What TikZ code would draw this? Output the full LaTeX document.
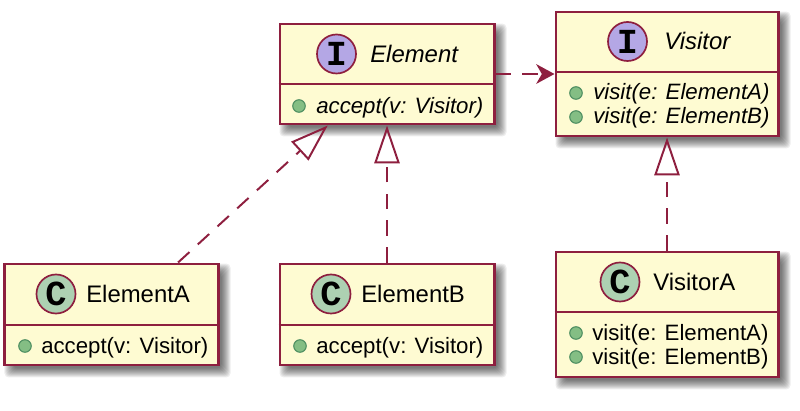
\documentclass[tikz,border=0pt]{standalone}
\usepackage{fontspec}
\setmainfont{Liberation Sans}
\newfontfamily\stereofont{Liberation Mono}
\usetikzlibrary{arrows.meta,backgrounds,calc}

\definecolor{umlline}{HTML}{8E1F3F}
\definecolor{umlfill}{HTML}{FEFBD2}
\definecolor{umliface}{HTML}{B4A7E5}
\definecolor{umlclass}{HTML}{ADD1B2}
\definecolor{umldot}{HTML}{84BE84}
\definecolor{umldotline}{HTML}{4F8F62}

\tikzset{
    classbox/.style={draw=umlline, fill=umlfill, line width=2.1pt, rectangle, inner sep=0pt},
    badge/.style={circle, draw=umlline, line width=1.2pt, minimum size=39\unit, inner sep=0pt, text=black},
    title/.style={anchor=west, inner sep=0pt, font=\fontsize{17}{20}\selectfont},
    member/.style={anchor=west, inner sep=0pt, yshift=-1.5pt, font=\fontsize{15.8}{19}\selectfont},
    dot/.style={circle, draw=umldotline, fill=umldot, line width=.8pt, minimum size=12.5\unit, inner sep=0pt},
    realize/.style={draw=umlline, line width=1.4pt, dash pattern=on 11pt off 8pt,
        -{Triangle[open, length=27pt, width=18pt, line width=1.4pt]}},
    depends/.style={draw=umlline, line width=1.4pt, dash pattern=on 11pt off 8pt,
        -{Stealth[length=13pt, width=14pt, inset=4pt]}}
}
\newcommand{\unit}{*0.7113pt}

% soft shadow behind a box
\newcommand{\softshadow}[1]{
    \begin{scope}[on background layer]
        \foreach \s in {-4,-3,...,5}
            \fill[black, opacity=.07, rounded corners=3pt]
                ($(#1.north west)+(6-\s,6-\s)$) rectangle ($(#1.south east)+(6+\s,6+\s)$);
    \end{scope}
}

\begin{document}
\begin{tikzpicture}[x=0.025cm, y=-0.025cm]

    \useasboundingbox (0,0) rectangle (800,411);

    % The five boxes
    \node[classbox, minimum width=214\unit, minimum height=100\unit] (element) at (387,74) {};
    \node[classbox, minimum width=222\unit, minimum height=124\unit] (visitor) at (667,74) {};
    \node[classbox, minimum width=213\unit, minimum height=101\unit] (elementA) at (111.5,314.5) {};
    \node[classbox, minimum width=214\unit, minimum height=101\unit] (elementB) at (387,314.5) {};
    \node[classbox, minimum width=222\unit, minimum height=125\unit] (visitorA) at (667,314.5) {};

    \softshadow{element}
    \softshadow{visitor}
    \softshadow{elementA}
    \softshadow{elementB}
    \softshadow{visitorA}

    % Dividers between title and members
    \draw[umlline, line width=2.1pt] (element.west |- 0,84) -- (element.east |- 0,84);
    \draw[umlline, line width=2.1pt] (visitor.west |- 0,72) -- (visitor.east |- 0,72);
    \draw[umlline, line width=2.1pt] (elementA.west |- 0,325) -- (elementA.east |- 0,325);
    \draw[umlline, line width=2.1pt] (elementB.west |- 0,325) -- (elementB.east |- 0,325);
    \draw[umlline, line width=2.1pt] (visitorA.west |- 0,312) -- (visitorA.east |- 0,312);

    % Badges
    \node[badge, fill=umliface, font=\stereofont\bfseries\fontsize{25}{25}\selectfont] (elementBadge) at (336.5,54) {I};
    \node[badge, fill=umliface, font=\stereofont\bfseries\fontsize{25}{25}\selectfont] (visitorBadge) at (627.5,41.5) {I};
    \node[badge, fill=umlclass, font=\stereofont\bfseries\fontsize{25}{25}\selectfont] (elementABadge) at (56,294) {C};
    \node[badge, fill=umlclass, font=\stereofont\bfseries\fontsize{25}{25}\selectfont] (elementBBadge) at (331,294) {C};
    \node[badge, fill=umlclass, font=\stereofont\bfseries\fontsize{25}{25}\selectfont] (visitorABadge) at (620,282) {C};

    % Titles
    \node[title] (elementName) at (370,54) {\itshape Element};
    \node[title] (visitorName) at (664,41) {\itshape Visitor};
    \node[title] (elementAName) at (86,294) {ElementA};
    \node[title] (elementBName) at (361,294) {ElementB};
    \node[title] (visitorAName) at (653,282) {VisitorA};

    % Members
    \node[dot] (elementDot) at (299,106) {};
    \node[member] (elementAccept) at (316,106) {\itshape accept(v: Visitor)};
    \node[dot] (visitorDotA) at (576,93) {};
    \node[member] (visitorVisitA) at (593,92) {\itshape visit(e: ElementA)};
    \node[dot] (visitorDotB) at (576,117) {};
    \node[member] (visitorVisitB) at (593,116) {\itshape visit(e: ElementB)};
    \node[dot] (elementADot) at (25,346) {};
    \node[member] (elementAAccept) at (41,346) {accept(v: Visitor)};
    \node[dot] (elementBDot) at (300,346) {};
    \node[member] (elementBAccept) at (316,346) {accept(v: Visitor)};
    \node[dot] (visitorADotA) at (576,333) {};
    \node[member] (visitorAVisitA) at (592,333) {visit(e: ElementA)};
    \node[dot] (visitorADotB) at (576,357) {};
    \node[member] (visitorAVisitB) at (592,357) {visit(e: ElementB)};

    % Connectors
    \draw[depends] (element.east) -- (visitor.west |- element.east);
    \draw[realize] (elementA.38.5) -- (element.221);
    \draw[realize] (elementB.north) -- (element.south);
    \draw[realize] (visitorA.north) -- (visitor.south);

\end{tikzpicture}
\end{document}
